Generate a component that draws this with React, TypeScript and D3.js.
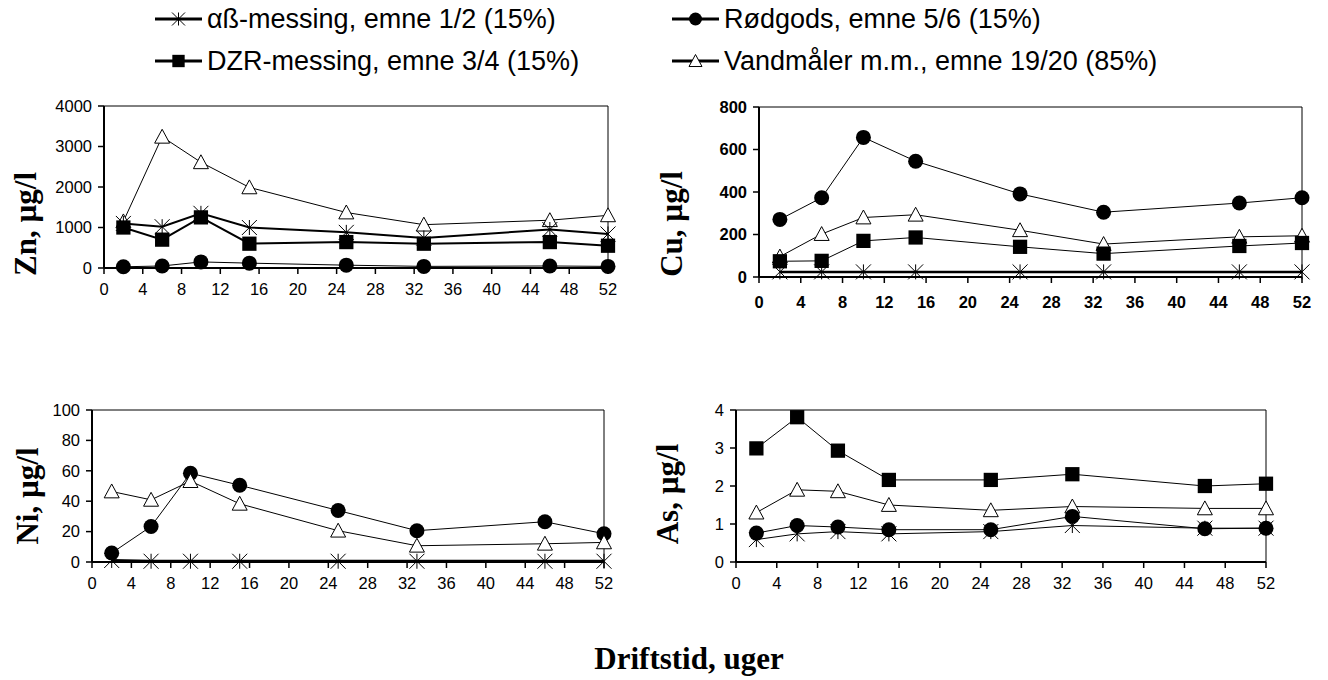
import React from "react";
import * as d3 from "d3";

// sampling weeks (driftstid)
const weeks = [2, 6, 10, 15, 25, 33, 46, 52];

const seriesNames = [
  "αß-messing, emne 1/2 (15%)",
  "DZR-messing, emne 3/4 (15%)",
  "Rødgods, emne 5/6 (15%)",
  "Vandmåler m.m., emne 19/20 (85%)",
];

// Zn, µg/l
const znAlpha = [1100, 1020, 1350, 1000, 880, 740, 950, 840];
const znDzr = [1000, 700, 1250, 600, 640, 600, 640, 550];
const znRod = [30, 50, 150, 120, 70, 40, 50, 40];
const znVand = [1150, 3240, 2610, 1990, 1370, 1070, 1180, 1300];

// Cu, µg/l
const cuAlpha = [24, 24, 24, 24, 24, 24, 24, 24];
const cuDzr = [74, 76, 170, 186, 142, 110, 146, 160];
const cuRod = [271, 373, 657, 545, 391, 305, 348, 373];
const cuVand = [96, 202, 280, 293, 220, 155, 189, 194];

// Ni, µg/l
const niAlpha = [1, 0.5, 0.5, 0.5, 0.5, 0.5, 0.5, 0.5];
const niRod = [5.9, 23.4, 58.4, 50.5, 33.9, 20.6, 26.5, 18.6];
const niVand = [46.4, 40.9, 53.2, 38.3, 20.6, 10.7, 12, 12.9];

// As, µg/l
const asAlpha = [0.59, 0.74, 0.8, 0.74, 0.8, 0.96, 0.89, 0.89];
const asDzr = [2.99, 3.81, 2.93, 2.16, 2.16, 2.31, 2.0, 2.06];
const asRod = [0.76, 0.96, 0.92, 0.85, 0.85, 1.2, 0.875, 0.89];
const asVand = [1.3, 1.9, 1.86, 1.5, 1.36, 1.46, 1.41, 1.41];

const xTicks = d3.range(0, 53, 4);

type Kind = "star" | "square" | "circle" | "triangle";

function Marker({ kind, x, y, s = 7.5 }: { kind: Kind; x: number; y: number; s?: number }) {
  if (kind === "circle") return <circle cx={x} cy={y} r={s} fill="#000" />;
  if (kind === "square")
    return <rect x={x - s * 0.95} y={y - s * 0.95} width={1.9 * s} height={1.9 * s} fill="#000" />;
  if (kind === "triangle")
    return (
      <path
        d={`M${x},${y - s}L${x + s},${y + s * 0.85}L${x - s},${y + s * 0.85}Z`}
        fill="#fff"
        stroke="#000"
        strokeWidth={1}
      />
    );
  return (
    <path
      d={`M${x - s},${y - s}L${x + s},${y + s}M${x - s},${y + s}L${x + s},${y - s}M${x},${y - s}L${x},${y + s}`}
      stroke="#000"
      strokeWidth={1}
      fill="none"
    />
  );
}

type Series = { values: number[]; kind: Kind; width: number };

type PanelProps = {
  left: number;
  right: number;
  top: number;
  bottom: number;
  yMax: number;
  yStep: number;
  series: Series[];
  label: string;
  labelX: number;
  labelY: number;
  bold?: boolean;
};

function Panel({ left, right, top, bottom, yMax, yStep, series, label, labelX, labelY, bold }: PanelProps) {
  const x = d3.scaleLinear().domain([0, 52]).range([left, right]);
  const y = d3.scaleLinear().domain([0, yMax]).range([bottom, top]);
  const yTicks = d3.range(0, yMax + yStep / 2, yStep);
  const line = d3
    .line<number>()
    .x((_, i) => x(weeks[i]))
    .y((d) => y(d));
  const fw = bold ? "bold" : "normal";
  return (
    <g>
      <path d={`M${left},${top}H${right}V${bottom}`} fill="none" stroke="#000" strokeWidth={1} />
      {series.map((s, i) => (
        <path key={i} d={line(s.values) || ""} fill="none" stroke="#000" strokeWidth={s.width} />
      ))}
      {series.map((s, i) =>
        s.values.map((v, j) => <Marker key={i + "-" + j} kind={s.kind} x={x(weeks[j])} y={y(v)} />)
      )}
      <line x1={left} x2={left} y1={top} y2={bottom} stroke="#000" strokeWidth={2} />
      <line x1={left} x2={right} y1={bottom} y2={bottom} stroke="#000" strokeWidth={2} />
      {yTicks.map((t) => (
        <g key={"y" + t}>
          <line x1={left - 6} x2={left} y1={y(t)} y2={y(t)} stroke="#000" strokeWidth={1.5} />
          <text
            x={left - 12}
            y={y(t)}
            dy="0.35em"
            textAnchor="end"
            fontFamily="Liberation Sans, Arial, sans-serif"
            fontSize={16.5}
            fontWeight={fw}
          >
            {t}
          </text>
        </g>
      ))}
      {xTicks.map((t) => (
        <g key={"x" + t}>
          <line x1={x(t)} x2={x(t)} y1={bottom} y2={bottom + 6} stroke="#000" strokeWidth={1.5} />
          <text
            x={x(t)}
            y={bottom + (bold ? 25 : 21)}
            dy="0.35em"
            textAnchor="middle"
            fontFamily="Liberation Sans, Arial, sans-serif"
            fontSize={16.5}
            fontWeight={fw}
          >
            {t}
          </text>
        </g>
      ))}
      <text
        transform={`translate(${labelX},${labelY}) rotate(-90)`}
        textAnchor="middle"
        dy="0.35em"
        fontFamily="Liberation Serif, Times New Roman, serif"
        fontWeight="bold"
        fontSize={31}
      >
        {label}
      </text>
    </g>
  );
}

const legendKinds: Kind[] = ["star", "square", "circle", "triangle"];

export default function App() {
  const legendPos = [
    { x: 155, y: 19 },
    { x: 155, y: 61 },
    { x: 672, y: 19 },
    { x: 672, y: 61 },
  ];
  return (
    <svg width={1328} height={680} style={{ position: "absolute", left: 0, top: 0, background: "#fff" }}>
      {seriesNames.map((name, i) => {
        const p = legendPos[i];
        return (
          <g key={name}>
            <line x1={p.x} x2={p.x + 47} y1={p.y} y2={p.y} stroke="#000" strokeWidth={3} />
            <Marker kind={legendKinds[i]} x={p.x + 23.5} y={p.y} s={6.5} />
            <text
              x={p.x + 52}
              y={p.y}
              dy="0.35em"
              fontFamily="Liberation Sans, Arial, sans-serif"
              fontSize={27}
            >
              {name}
            </text>
          </g>
        );
      })}

      <Panel
        left={104}
        right={608}
        top={106}
        bottom={268}
        yMax={4000}
        yStep={1000}
        label="Zn, µg/l"
        labelX={25}
        labelY={224}
        series={[
          { values: znVand, kind: "triangle", width: 1 },
          { values: znAlpha, kind: "star", width: 2 },
          { values: znDzr, kind: "square", width: 2 },
          { values: znRod, kind: "circle", width: 1 },
        ]}
      />
      <Panel
        left={759}
        right={1302}
        top={107}
        bottom={277}
        yMax={800}
        yStep={200}
        bold
        label="Cu, µg/l"
        labelX={671}
        labelY={224}
        series={[
          { values: cuRod, kind: "circle", width: 1 },
          { values: cuVand, kind: "triangle", width: 1 },
          { values: cuDzr, kind: "square", width: 1 },
          { values: cuAlpha, kind: "star", width: 2.5 },
        ]}
      />
      <Panel
        left={92}
        right={604}
        top={410}
        bottom={562}
        yMax={100}
        yStep={20}
        label="Ni, µg/l"
        labelX={27}
        labelY={496}
        series={[
          { values: niRod, kind: "circle", width: 1 },
          { values: niVand, kind: "triangle", width: 1 },
          { values: niAlpha, kind: "star", width: 3 },
        ]}
      />
      <Panel
        left={736}
        right={1266}
        top={410}
        bottom={562}
        yMax={4}
        yStep={1}
        label="As, µg/l"
        labelX={667}
        labelY={494}
        series={[
          { values: asDzr, kind: "square", width: 1 },
          { values: asVand, kind: "triangle", width: 1 },
          { values: asRod, kind: "circle", width: 1 },
          { values: asAlpha, kind: "star", width: 1 },
        ]}
      />
      <text
        x={689}
        y={658}
        dy="0.35em"
        textAnchor="middle"
        fontFamily="Liberation Serif, Times New Roman, serif"
        fontWeight="bold"
        fontSize={31}
      >
        Driftstid, uger
      </text>
    </svg>
  );
}
